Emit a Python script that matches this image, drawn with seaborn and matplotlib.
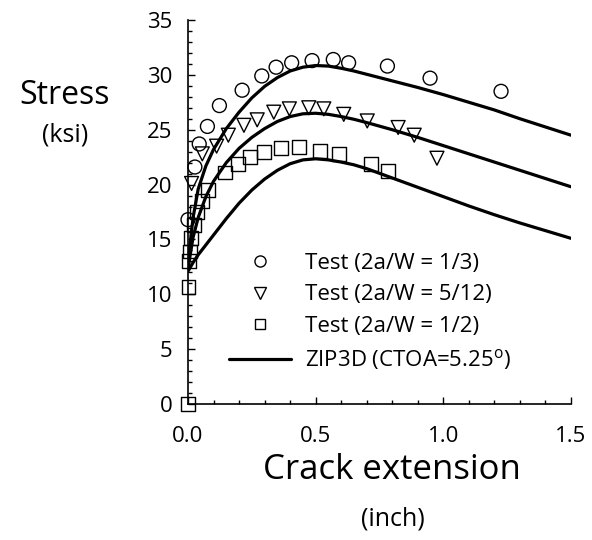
import matplotlib
matplotlib.use("Agg")
import matplotlib.pyplot as plt
import seaborn as sns
import pandas as pd
import numpy as np
from matplotlib.lines import Line2D
from matplotlib.ticker import MultipleLocator

# ---- Test data (crack extension in inch, stress in ksi) ----
circ_x = [0.000, 0.027, 0.044, 0.076, 0.123, 0.212, 0.289, 0.345, 0.406, 0.486, 0.569, 0.629, 0.781, 0.948, 1.226]
circ_y = [16.8, 21.6, 23.7, 25.3, 27.2, 28.6, 29.9, 30.7, 31.1, 31.3, 31.4, 31.1, 30.8, 29.7, 28.5]

tri_x = [0.014, 0.056, 0.112, 0.158, 0.219, 0.271, 0.336, 0.397, 0.473, 0.532, 0.610, 0.702, 0.823, 0.886, 0.975]
tri_y = [20.1, 22.8, 23.5, 24.5, 25.4, 25.9, 26.6, 26.9, 27.0, 26.9, 26.4, 25.8, 25.2, 24.5, 22.4]

sq_x = [0.000, 0.002, 0.004, 0.008, 0.012, 0.022, 0.034, 0.055, 0.080, 0.145, 0.197, 0.243, 0.298, 0.363, 0.435, 0.518, 0.593, 0.717, 0.783]
sq_y = [0.0, 10.7, 13.0, 13.9, 15.1, 16.3, 17.5, 18.5, 19.5, 21.1, 21.9, 22.5, 23.0, 23.3, 23.4, 23.1, 22.8, 21.9, 21.2]

# ---- ZIP3D analysis curves ----
zip_x = [0.0, 0.01, 0.02, 0.04, 0.07, 0.10, 0.15, 0.20, 0.25, 0.30, 0.35, 0.40, 0.45, 0.50,
         0.55, 0.60, 0.65, 0.70, 0.80, 0.90, 1.00, 1.10, 1.20, 1.30, 1.40, 1.50]
zip_13 = [12.4, 15.0, 17.0, 19.6, 21.7, 23.2, 25.1, 26.6, 27.9, 28.95, 29.75, 30.35, 30.7, 30.85,
          30.8, 30.6, 30.35, 30.05, 29.45, 28.85, 28.2, 27.5, 26.8, 26.0, 25.25, 24.5]
zip_512 = [12.3, 13.8, 15.2, 17.0, 18.9, 20.3, 22.0, 23.3, 24.3, 25.1, 25.75, 26.2, 26.45, 26.5,
           26.4, 26.2, 25.95, 25.65, 25.0, 24.3, 23.55, 22.8, 22.05, 21.3, 20.55, 19.8]
zip_12 = [12.1, 12.5, 12.9, 13.6, 14.5, 15.4, 16.9, 18.3, 19.5, 20.5, 21.3, 21.9, 22.25, 22.35,
          22.25, 22.05, 21.8, 21.45, 20.6, 19.75, 18.9, 18.05, 17.25, 16.5, 15.8, 15.1]

labels = ["Test (2a/W = 1/3)", "Test (2a/W = 5/12)", "Test (2a/W = 1/2)",
          "ZIP3D (CTOA=5.25$^{\\mathregular{o}}$)"]

xticks = [0.0, 0.5, 1.0, 1.5]
xticklabels = ["0.0", "0.5", "1.0", "1.5"]
yticks = [0, 5, 10, 15, 20, 25, 30, 35]

sns.set_theme(style="white")
FONT = ["Open Sans", "DejaVu Sans"]
plt.rcParams["font.family"] = FONT
plt.rcParams["font.weight"] = "normal"
for k in ["text.color", "axes.labelcolor", "xtick.color", "ytick.color", "axes.edgecolor"]:
    plt.rcParams[k] = "black"

fig = plt.figure(figsize=(5.92, 5.40), dpi=100)
ax = fig.add_axes([188/592, 1 - 404/540, (571-188)/592, (404-20)/540])

curves = pd.DataFrame({
    "x": zip_x * 3,
    "y": zip_13 + zip_512 + zip_12,
    "case": ["1/3"] * len(zip_x) + ["5/12"] * len(zip_x) + ["1/2"] * len(zip_x),
})
sns.lineplot(data=curves, x="x", y="y", units="case", estimator=None, color="black",
             lw=2.3, ax=ax, legend=False, sort=False)

ms = 100
for xs, ys, mk in [(circ_x, circ_y, "o"), (tri_x, tri_y, "v"), (sq_x, sq_y, "s")]:
    sns.scatterplot(x=xs, y=ys, marker=mk, s=ms, facecolors="none", edgecolor="black",
                    linewidth=1.0, ax=ax, legend=False, clip_on=False, zorder=3)

ax.set_xlim(0, 1.5)
ax.set_ylim(0, 35)
ax.set_xticks(xticks)
ax.set_xticklabels(xticklabels)
ax.set_yticks(yticks)
ax.xaxis.set_minor_locator(MultipleLocator(0.1))
ax.yaxis.set_minor_locator(MultipleLocator(1))
ax.tick_params(which="both", direction="in", color="black", labelcolor="black", width=1.0, labelsize=16)
ax.tick_params(which="major", length=5)
ax.tick_params(which="minor", length=3)
ax.tick_params(axis="y", which="major", pad=11)
ax.tick_params(axis="x", which="major", pad=16)
ax.tick_params(which="both", bottom=True, left=True, top=False, right=False)
for side in ["top", "right"]:
    ax.spines[side].set_visible(False)
for side in ["left", "bottom"]:
    ax.spines[side].set_color("black")
    ax.spines[side].set_linewidth(1.2)
ax.set_xlabel("")
ax.set_ylabel("")

fig.text(65/592, 1 - 95/540, "Stress", ha="center", va="center", fontsize=23, color="black")
fig.text(65/592, 1 - 135/540, "(ksi)", ha="center", va="center", fontsize=18, color="black")
fig.text(392/592, 1 - 470/540, "Crack extension", ha="center", va="center", fontsize=25, color="black")
fig.text(393/592, 1 - 519/540, "(inch)", ha="center", va="center", fontsize=18, color="black")

handles = [
    Line2D([], [], marker="o", ls="none", mfc="none", mec="black", ms=8, mew=1.0),
    Line2D([], [], marker="v", ls="none", mfc="none", mec="black", ms=8, mew=1.0),
    Line2D([], [], marker="s", ls="none", mfc="none", mec="black", ms=7.5, mew=1.0),
    Line2D([], [], color="black", lw=2.3),
]
leg = ax.legend(handles, labels, loc="upper left", bbox_to_anchor=(229/592, 1 - 253/540),
                bbox_transform=fig.transFigure, frameon=False, fontsize=16,
                handlelength=2.8, handletextpad=0.6, labelspacing=0.47,
                borderpad=0, borderaxespad=0)
for t in leg.get_texts():
    t.set_color("black")

fig.savefig("out.png", dpi=100)
